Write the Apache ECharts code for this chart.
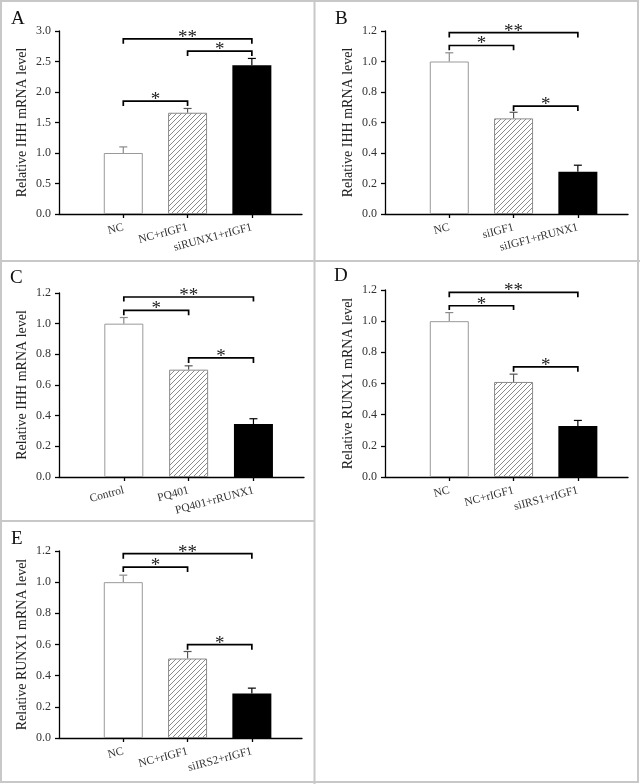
<!DOCTYPE html>
<html><head><meta charset="utf-8">
<script src="https://cdn.jsdelivr.net/npm/echarts@6/dist/echarts.min.js"></script>
<style>html,body{margin:0;padding:0;background:#fff}#c{width:640px;height:784px}</style>
</head><body><div id="c"></div>
<script>
// ---- data ----
const catsA = ['NC', 'NC+rIGF1', 'siRUNX1+rIGF1'];
const catsB = ['NC', 'siIGF1', 'siIGF1+rRUNX1'];
const catsC = ['Control', 'PQ401', 'PQ401+rRUNX1'];
const catsD = ['NC', 'NC+rIGF1', 'siIRS1+rIGF1'];
const catsE = ['NC', 'NC+rIGF1', 'siIRS2+rIGF1'];

const valsA = [1.00, 1.66, 2.44];
const valsB = [1.00, 0.627, 0.277];
const valsC = [1.00, 0.70, 0.345];
const valsD = [1.00, 0.61, 0.328];
const valsE = [1.00, 0.51, 0.285];

const errA = [0.10, 0.07, 0.11];
const errB = [0.057, 0.04, 0.043];
const errC = [0.04, 0.025, 0.035];
const errD = [0.055, 0.05, 0.035];
const errE = [0.045, 0.045, 0.035];

// brackets: [from, to, lineY, tickEndY]
const brA = [[1, 2, 1.85, 1.77], [2, 3, 2.67, 2.59], [1, 3, 2.87, 2.79]];
const brB = [[1, 3, 1.19, 1.157], [1, 2, 1.105, 1.074], [2, 3, 0.708, 0.675]];
const brC = [[1, 3, 1.174, 1.144], [1, 2, 1.087, 1.055], [2, 3, 0.777, 0.744]];
const brD = [[1, 3, 1.185, 1.153], [1, 2, 1.099, 1.071], [2, 3, 0.707, 0.675]];
const brE = [[1, 3, 1.183, 1.151], [1, 2, 1.097, 1.065], [2, 3, 0.599, 0.567]];
const starsA = ['*', '*', '**'];
const starsBE = ['**', '*', '*'];

const yTitleIHH = 'Relative IHH mRNA level';
const yTitleRUNX = 'Relative RUNX1 mRNA level';
const panelLetters = ['A', 'B', 'C', 'D', 'E'];
const yMaxA = 3.0, yIntA = 0.5;
const yMaxOther = 1.2, yIntOther = 0.2;

// ---- styling / layout ----
const FONT = '"Liberation Serif","Times New Roman",serif';
function hatch() {
  const s = 5, c = document.createElement('canvas');
  c.width = s; c.height = s;
  const g = c.getContext('2d');
  g.fillStyle = '#fff'; g.fillRect(0, 0, s, s);
  g.strokeStyle = '#8a8a8a'; g.lineWidth = 1;
  g.beginPath();
  g.moveTo(0, s); g.lineTo(s, 0);
  g.moveTo(-1, 1); g.lineTo(1, -1);
  g.moveTo(s - 1, s + 1); g.lineTo(s + 1, s - 1);
  g.stroke();
  return c;
}
const hatchPat = { image: hatch(), repeat: 'repeat' };
const barStyles = [
  { color: '#fff', borderColor: '#999', borderWidth: 1 },
  { color: hatchPat, borderColor: '#8a8a8a', borderWidth: 1 },
  { color: '#000', borderColor: '#000', borderWidth: 0 }
];
const errColors = ['#8a8a8a', '#555', '#000'];

const panels = [
  { cats: catsA, vals: valsA, err: errA, br: brA, stars: starsA, title: yTitleIHH, max: yMaxA, int: yIntA, grid: { left: 59, top: 31, width: 243, height: 183 } },
  { cats: catsB, vals: valsB, err: errB, br: brB, stars: starsBE, title: yTitleIHH, max: yMaxOther, int: yIntOther, grid: { left: 385, top: 31, width: 243, height: 183 } },
  { cats: catsC, vals: valsC, err: errC, br: brC, stars: starsBE, title: yTitleIHH, max: yMaxOther, int: yIntOther, grid: { left: 59, top: 293, width: 245, height: 184 } },
  { cats: catsD, vals: valsD, err: errD, br: brD, stars: starsBE, title: yTitleRUNX, max: yMaxOther, int: yIntOther, grid: { left: 385, top: 290, width: 243, height: 187 } },
  { cats: catsE, vals: valsE, err: errE, br: brE, stars: starsBE, title: yTitleRUNX, max: yMaxOther, int: yIntOther, grid: { left: 59, top: 551, width: 243, height: 187 } }
];
const letterPos = [[11, 10], [335, 10], [10, 269], [334, 267], [11, 530]];

const grids = [], xAxes = [], yAxes = [], series = [];
panels.forEach((p, i) => {
  grids.push(Object.assign({ containLabel: false }, p.grid));
  xAxes.push({
    type: 'value', gridIndex: i, min: 0, max: 3.78,
    axisLine: { show: true, lineStyle: { color: '#000', width: 1.3 } },
    axisTick: { show: true, customValues: [1, 2, 3], length: 4, lineStyle: { color: '#000', width: 1.3 } },
    axisLabel: {
      customValues: [1, 2, 3], rotate: 15, margin: 13,
      formatter: v => p.cats[Math.round(v) - 1] || '',
      fontFamily: FONT, fontSize: 11.5, color: '#333'
    },
    splitLine: { show: false }
  });
  yAxes.push({
    type: 'value', gridIndex: i, min: 0, max: p.max, interval: p.int,
    name: p.title, nameLocation: 'middle', nameGap: 30, nameRotate: 90,
    nameTextStyle: { fontFamily: FONT, fontSize: 14, color: '#222' },
    axisLine: { show: true, lineStyle: { color: '#000', width: 1.3 } },
    axisTick: { show: true, length: 4, lineStyle: { color: '#000', width: 1.3 } },
    axisLabel: { formatter: v => v.toFixed(1), fontFamily: FONT, fontSize: 12, color: '#333', margin: 8 },
    splitLine: { show: false }
  });
  series.push({
    type: 'bar', xAxisIndex: i, yAxisIndex: i, barWidth: 39,
    data: p.vals.map((v, k) => ({ value: [k + 1, v], itemStyle: barStyles[k] })),
    silent: true, animation: false
  });
  series.push({
    type: 'custom', xAxisIndex: i, yAxisIndex: i, animation: false, silent: true,
    data: p.vals.map((v, k) => [k + 1, v, p.err[k], k]),
    renderItem: (params, api) => {
      const x = api.value(0), v = api.value(1), e = api.value(2), k = api.value(3);
      const b = api.coord([x, v]), t = api.coord([x, v + e]);
      const c = errColors[k];
      return { type: 'group', children: [
        { type: 'line', shape: { x1: b[0], y1: b[1], x2: t[0], y2: t[1] }, style: { stroke: c, lineWidth: 1.2 } },
        { type: 'line', shape: { x1: t[0] - 4, y1: t[1], x2: t[0] + 4, y2: t[1] }, style: { stroke: c, lineWidth: 1.2 } }
      ] };
    }
  });
  series.push({
    type: 'custom', xAxisIndex: i, yAxisIndex: i, animation: false, silent: true,
    data: p.br.map((b, k) => [b[0], b[2], b[1], b[3], k]),
    renderItem: (params, api) => {
      const x1 = api.value(0), y = api.value(1), x2 = api.value(2), yt = api.value(3), k = api.value(4);
      const a = api.coord([x1, y]), b = api.coord([x2, y]);
      const at = api.coord([x1, yt]), bt = api.coord([x2, yt]);
      return { type: 'group', children: [
        { type: 'polyline', shape: { points: [[at[0], at[1]], [a[0], a[1]], [b[0], b[1]], [bt[0], bt[1]]] },
          style: { stroke: '#000', lineWidth: 1.7, fill: null } },
        { type: 'text', style: { text: p.stars[k], x: (a[0] + b[0]) / 2, y: a[1] - 1,
          align: 'center', verticalAlign: 'middle', font: '19px ' + FONT, fill: '#222' } }
      ] };
    }
  });
});

const frame = '#c8c8c8';
const graphics = [
  { type: 'rect', shape: { x: 1, y: 1, width: 637, height: 781 }, style: { fill: null, stroke: frame, lineWidth: 2 } },
  { type: 'line', shape: { x1: 314.5, y1: 0, x2: 314.5, y2: 784 }, style: { stroke: frame, lineWidth: 2 } },
  { type: 'line', shape: { x1: 0, y1: 261, x2: 640, y2: 261 }, style: { stroke: frame, lineWidth: 2 } },
  { type: 'line', shape: { x1: 0, y1: 521, x2: 314.5, y2: 521 }, style: { stroke: frame, lineWidth: 2 } }
];
panelLetters.forEach((L, i) => {
  graphics.push({ type: 'text', left: letterPos[i][0], top: letterPos[i][1],
    style: { text: L, font: '19px ' + FONT, fill: '#111' } });
});

const chart = echarts.init(document.getElementById('c'), null, { renderer: 'canvas' });
chart.setOption({
  animation: false,
  backgroundColor: '#fff',
  grid: grids, xAxis: xAxes, yAxis: yAxes, series: series,
  graphic: graphics
});
</script></body></html>
